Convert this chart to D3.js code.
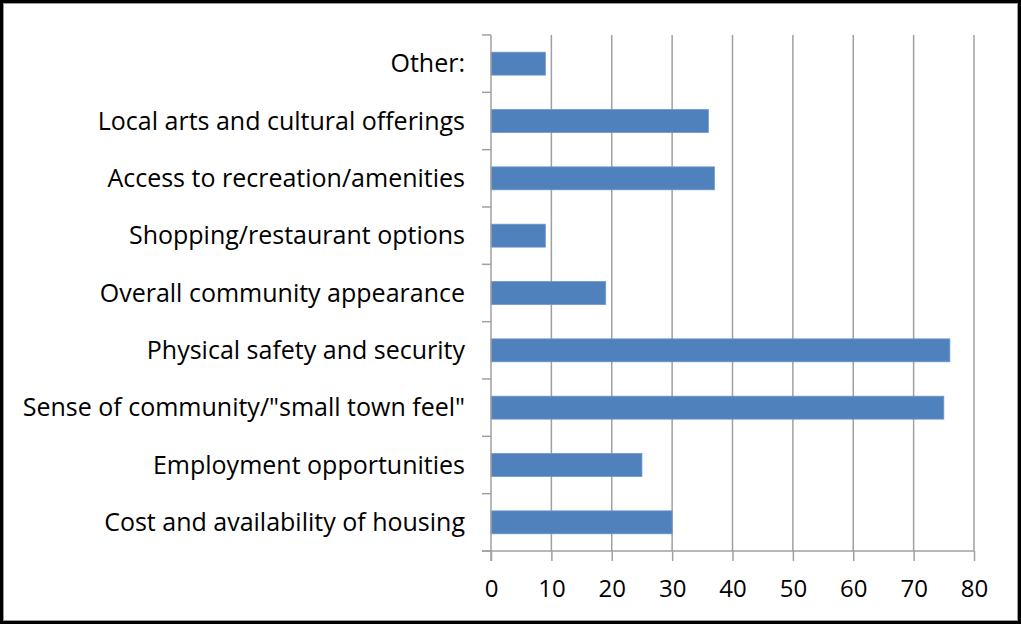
<!DOCTYPE html>
<html>
<head>
<meta charset="utf-8">
<script src="https://cdn.jsdelivr.net/npm/d3@7"></script>
<style>
  body { margin: 0; background: #fff; }
  svg text { font-family: "Open Sans", sans-serif; fill: #000; }
</style>
</head>
<body>
<svg id="chart" width="1021" height="625"></svg>
<script>
// categories, top to bottom as shown
var categories = [
  "Other:",
  "Local arts and cultural offerings",
  "Access to recreation/amenities",
  "Shopping/restaurant options",
  "Overall community appearance",
  "Physical safety and security",
  "Sense of community/\"small town feel\"",
  "Employment opportunities",
  "Cost and availability of housing"
];
var values = [9, 36, 37, 9, 19, 76, 75, 25, 30];
var xTicks = [0, 10, 20, 30, 40, 50, 60, 70, 80];

(function() {
  var svg = d3.select("#chart");
  var W = 1021, H = 625;
  var mLeft = 491, mRight = 974, mTop = 35, mBottom = 551;

  // frame
  svg.append("rect").attr("x", 1.5).attr("y", 1.5).attr("width", W - 3).attr("height", H - 4)
    .attr("fill", "none").attr("stroke", "#000").attr("stroke-width", 3);
  svg.append("rect").attr("x", 3.5).attr("y", 3.5).attr("width", W - 7).attr("height", H - 8)
    .attr("fill", "none").attr("stroke", "#9a9a9a").attr("stroke-width", 1);

  var x = d3.scaleLinear().domain([0, 80]).range([mLeft, mRight]);
  var y = d3.scaleBand().domain(categories).range([mTop, mBottom]).paddingInner(0.6).paddingOuter(0.3);

  // vertical gridlines
  svg.append("g").selectAll("line").data(xTicks.slice(1)).enter().append("line")
    .attr("x1", function(d) { return x(d); }).attr("x2", function(d) { return x(d); })
    .attr("y1", mTop).attr("y2", mBottom)
    .attr("stroke", "#a0a0a0").attr("stroke-width", 1.5);

  // bars
  svg.append("g").selectAll("rect").data(values).enter().append("rect")
    .attr("x", x(0))
    .attr("y", function(d, i) { return y(categories[i]); })
    .attr("width", function(d) { return x(d) - x(0); })
    .attr("height", y.bandwidth())
    .attr("fill", "#4f81bd")
    .attr("stroke", "#6f97c9").attr("stroke-width", 0.8);

  // x axis
  var xAxis = d3.axisBottom(x).tickValues(xTicks).tickSize(10).tickPadding(19);
  var gx = svg.append("g").attr("transform", "translate(0," + mBottom + ")").call(xAxis);
  gx.select(".domain").attr("stroke", "#a0a0a0").attr("stroke-width", 1.5).attr("d", "M" + (mLeft - 9) + ",0H" + mRight);
  gx.selectAll(".tick line").attr("stroke", "#a0a0a0").attr("stroke-width", 1.5);
  gx.selectAll(".tick text").style("font-size", "24px").attr("fill", "#000");

  // y axis: boundary ticks between categories, labels centered
  var step = (mBottom - mTop) / categories.length;
  var gy = svg.append("g");
  gy.append("line").attr("x1", mLeft).attr("x2", mLeft).attr("y1", mTop).attr("y2", mBottom + 10)
    .attr("stroke", "#a0a0a0").attr("stroke-width", 1.5);
  gy.selectAll("line.bt").data(d3.range(categories.length + 1)).enter().append("line")
    .attr("class", "bt")
    .attr("x1", mLeft - 9).attr("x2", mLeft)
    .attr("y1", function(i) { return mTop + i * step; })
    .attr("y2", function(i) { return mTop + i * step; })
    .attr("stroke", "#a0a0a0").attr("stroke-width", 1.5);
  gy.selectAll("text").data(categories).enter().append("text")
    .attr("x", 465)
    .attr("y", function(d) { return y(d) + y.bandwidth() / 2; })
    .attr("dy", "0.35em")
    .attr("text-anchor", "end")
    .style("font-size", "25px")
    .text(function(d) { return d; });
})();
</script>
</body>
</html>
